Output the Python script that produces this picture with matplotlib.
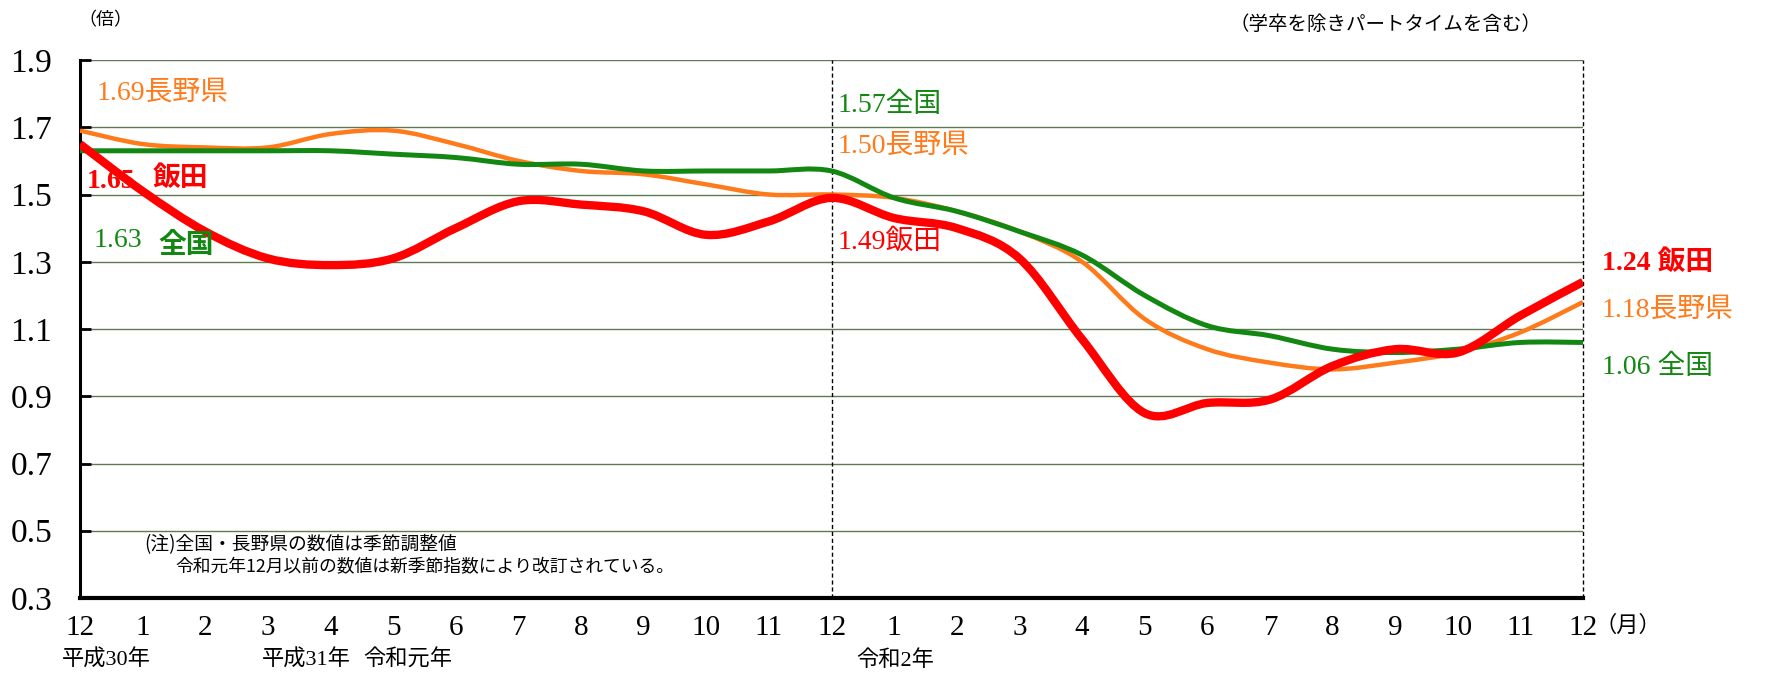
import matplotlib
matplotlib.use("Agg")
import matplotlib.pyplot as plt
from matplotlib.path import Path
from matplotlib.patches import PathPatch
import numpy as np

months = ["12", "1", "2", "3", "4", "5", "6", "7", "8", "9", "10", "11",
          "12", "1", "2", "3", "4", "5", "6", "7", "8", "9", "10", "11", "12"]
national = [1.63, 1.63, 1.63, 1.63, 1.63, 1.62, 1.61, 1.59, 1.59, 1.57, 1.57, 1.57,
            1.57, 1.49, 1.45, 1.39, 1.32, 1.20, 1.11, 1.08, 1.04, 1.03, 1.04, 1.06, 1.06]
nagano = [1.69, 1.65, 1.64, 1.64, 1.68, 1.69, 1.65, 1.60, 1.57, 1.56, 1.53, 1.50,
          1.50, 1.49, 1.45, 1.39, 1.30, 1.13, 1.04, 1.00, 0.98, 1.00, 1.03, 1.09, 1.18]
iida = [1.65, 1.51, 1.39, 1.31, 1.29, 1.31, 1.40, 1.48, 1.47, 1.45, 1.38, 1.42,
        1.49, 1.43, 1.40, 1.31, 1.07, 0.85, 0.88, 0.89, 0.99, 1.04, 1.03, 1.14, 1.24]
yticks = [0.3, 0.5, 0.7, 0.9, 1.1, 1.3, 1.5, 1.7, 1.9]
era_texts = ["平成30年", "平成31年", "令和元年", "令和2年"]

C_ORANGE = "#FF7A1A"
C_GREEN = "#128712"
C_RED = "#FF0000"
SERIF = ["Liberation Serif", "Noto Sans CJK JP"]
CJK = ["Noto Sans CJK JP", "DejaVu Sans"]

fig = plt.figure(figsize=(17.67, 6.75), dpi=100)
ax = fig.add_axes([80/1767, 1-598/675, (1583-80)/1767, (598-60)/675])
ax.set_xlim(0, 24)
ax.set_ylim(0.3, 1.9)

for y in yticks[1:]:
    ax.axhline(y, color="#5E7A55", lw=1.0, zorder=1)
ax.axvline(12, color="black", lw=1.0, ls=(0, (3, 2)), zorder=1)
ax.axvline(24, color="black", lw=1.0, ls=(0, (3, 2)), zorder=1, clip_on=False)

def smooth_path(xs, ys):
    pts = np.column_stack([xs, ys]).astype(float)
    n = len(pts)
    verts = [pts[0]]
    codes = [Path.MOVETO]
    for i in range(n - 1):
        p0 = pts[i - 1] if i > 0 else pts[i]
        p1 = pts[i]
        p2 = pts[i + 1]
        p3 = pts[i + 2] if i + 2 < n else pts[i + 1]
        c1 = p1 + (p2 - p0) / 6.0
        c2 = p2 - (p3 - p1) / 6.0
        verts += [c1, c2, p2]
        codes += [Path.CURVE4] * 3
    return Path(verts, codes)

x = np.arange(len(months))
for ys, c, lw, z in [(nagano, C_ORANGE, 3.2, 3), (national, C_GREEN, 3.6, 4), (iida, C_RED, 6.0, 5)]:
    ax.add_patch(PathPatch(smooth_path(x, ys), fill=False, edgecolor=c, lw=lw,
                           capstyle="butt", joinstyle="round", zorder=z))

for s in ["top", "right"]:
    ax.spines[s].set_visible(False)
ax.spines["left"].set_linewidth(2.2)
ax.spines["bottom"].set_linewidth(3.0)

ax.set_yticks(yticks)
ax.set_yticklabels([f"{v:.1f}" for v in yticks], fontfamily="Liberation Serif", fontsize=24)
ax.tick_params(axis="y", direction="in", length=8, width=2, pad=50)
for lab_ in ax.get_yticklabels():
    lab_.set_horizontalalignment("left")
ax.set_xticks(x)
ax.set_xticklabels(months, fontfamily="Liberation Serif", fontsize=21)
ax.tick_params(axis="x", length=0, pad=12)

era_pos = [-0.29, 2.91, 4.52, 12.40]
for xi, t in zip(era_pos, era_texts):
    ax.annotate(t, xy=(xi, 0.3), xycoords="data", xytext=(0, -45), textcoords="offset points",
                ha="left", va="center", fontsize=16, family=SERIF, annotation_clip=False)
ax.annotate("（月）", xy=(24, 0.3), xycoords="data", xytext=(32, -20), textcoords="offset points",
            ha="center", va="center", fontsize=16, family=CJK, annotation_clip=False)

fig.text(78/1767, 1-20/675, "（倍）", fontsize=13, family=CJK, ha="left", va="center")
fig.text(1229/1767, 1-24/675, "（学卒を除きパートタイムを含む）", fontsize=14, family=CJK, ha="left", va="center")

def lab(xp, yp, num, name, color, bold=False, gap=""):
    w = "bold" if bold else "normal"
    fig.text(xp/1767, 1-yp/675, num + gap + name, fontsize=20, family=SERIF, color=color,
             ha="left", va="center", fontweight=w)

lab(97, 93, "1.69", "長野県", C_ORANGE)
fig.text(87/1767, 1-182/675, "1.65", fontsize=20, family="Liberation Serif", color=C_RED,
         ha="left", va="center", fontweight="bold")
fig.text(153/1767, 1-178/675, "飯田", fontsize=20, family=CJK, color=C_RED,
         ha="left", va="center", fontweight="bold")
fig.text(94/1767, 1-240/675, "1.63", fontsize=20, family="Liberation Serif", color=C_GREEN,
         ha="left", va="center")
fig.text(158/1767, 1-245/675, "全国", fontsize=20, family=CJK, color=C_GREEN,
         ha="left", va="center", fontweight="bold")
lab(838, 105, "1.57", "全国", C_GREEN)
lab(838, 146, "1.50", "長野県", C_ORANGE)
lab(838, 242, "1.49", "飯田", C_RED)
lab(1602, 263, "1.24", "飯田", C_RED, bold=True, gap=" ")
lab(1602, 310, "1.18", "長野県", C_ORANGE)
lab(1602, 367, "1.06", "全国", C_GREEN, gap=" ")

fig.text(144/1767, 1-545/675, "(注)全国・長野県の数値は季節調整値", fontsize=13.5, family=CJK, ha="left", va="center")
fig.text(175/1767, 1-567/675, "令和元年12月以前の数値は新季節指数により改訂されている。", fontsize=12.8, family=CJK, ha="left", va="center")

fig.savefig("out.png", dpi=100)
